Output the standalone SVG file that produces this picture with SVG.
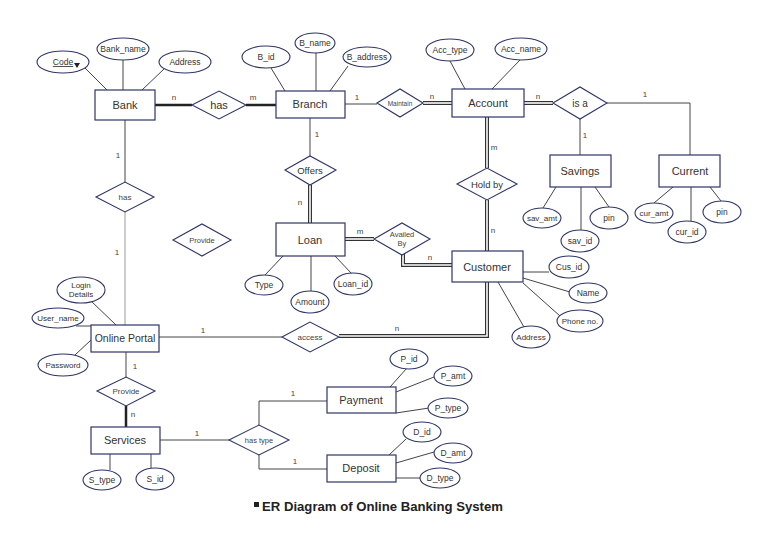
<svg xmlns="http://www.w3.org/2000/svg" width="768" height="543" viewBox="0 0 768 543">
<style>
.ent{fill:#fff;stroke:#2e3566;stroke-width:1.2}
.att{fill:#fff;stroke:#2e3566;stroke-width:1.1}
.rel{fill:#fff;stroke:#2e3566;stroke-width:1.1}
.et{font-family:"Liberation Sans",Arial,sans-serif;font-size:11px;fill:#333;text-anchor:middle}
.at{font-family:"Liberation Sans",Arial,sans-serif;font-size:8.5px;fill:#333;text-anchor:middle}
.rt{font-family:"Liberation Sans",Arial,sans-serif;font-size:8px;fill:#444;text-anchor:middle}
.lb{font-family:"Liberation Sans",Arial,sans-serif;font-size:8px;fill:#444;text-anchor:middle}
.ln{fill:none;stroke:#444;stroke-width:1}
.lg{fill:none;stroke:#aaa;stroke-width:1.2}
.th{fill:none;stroke:#222;stroke-width:2.5}
.d1{fill:none;stroke:#333;stroke-width:4;stroke-linejoin:miter}
.d2{fill:none;stroke:#fff;stroke-width:1.6;stroke-linejoin:miter}
</style>
<rect width="768" height="543" fill="#fff"/>
<g id="connectors">
<!-- Bank attributes -->
<line class="ln" x1="85" y1="68" x2="107" y2="90"/>
<line class="ln" x1="123" y1="60" x2="123" y2="90"/>
<line class="ln" x1="164" y1="69" x2="142" y2="90"/>
<!-- Bank - has - Branch -->
<line class="th" x1="155" y1="105" x2="192" y2="105"/>
<line class="th" x1="246" y1="105" x2="276" y2="105"/>
<!-- Branch attributes -->
<line class="ln" x1="271" y1="68" x2="285" y2="91"/>
<line class="ln" x1="316" y1="53" x2="316" y2="91"/>
<line class="ln" x1="348" y1="66" x2="330" y2="91"/>
<!-- Branch - Maintain - Account -->
<line class="ln" x1="345" y1="104" x2="377" y2="104"/>
<path class="d1" d="M423 103H452"/><path class="d2" d="M423 103H452"/>
<!-- Account attributes -->
<line class="ln" x1="450" y1="61" x2="465" y2="89"/>
<line class="ln" x1="520" y1="60" x2="492" y2="89"/>
<!-- Account - is a -->
<path class="d1" d="M524 103H553"/><path class="d2" d="M524 103H553"/>
<path class="ln" d="M607 103H690V155"/>
<line class="ln" x1="580" y1="119" x2="580" y2="155"/>
<!-- Savings / Current attributes -->
<line class="ln" x1="543" y1="208" x2="556" y2="187"/>
<line class="ln" x1="581" y1="230" x2="581" y2="187"/>
<line class="ln" x1="609" y1="207" x2="595" y2="187"/>
<line class="ln" x1="654" y1="203" x2="673" y2="187"/>
<line class="ln" x1="691" y1="221" x2="691" y2="187"/>
<line class="ln" x1="721" y1="201" x2="710" y2="187"/>
<!-- Account - Hold by - Customer -->
<path class="d1" d="M487 117V168"/><path class="d2" d="M487 117V168"/>
<path class="d1" d="M487 200V251"/><path class="d2" d="M487 200V251"/>
<!-- Branch - Offers - Loan -->
<line class="ln" x1="310" y1="118" x2="310" y2="156"/>
<path class="d1" d="M310 185V223"/><path class="d2" d="M310 185V223"/>
<!-- Loan attributes -->
<line class="ln" x1="265" y1="275" x2="283" y2="256"/>
<line class="ln" x1="311" y1="291" x2="311" y2="256"/>
<line class="ln" x1="352" y1="274" x2="335" y2="256"/>
<!-- Loan - Availed By - Customer -->
<path class="d1" d="M345 239H374"/><path class="d2" d="M345 239H374"/>
<path class="d1" d="M403 252V265H452"/><path class="d2" d="M403 252V265H452"/>
<!-- Customer attributes -->
<line class="ln" x1="523" y1="272" x2="549" y2="272"/>
<line class="ln" x1="523" y1="278" x2="570" y2="292"/>
<line class="ln" x1="523" y1="283" x2="560" y2="316"/>
<line class="ln" x1="498" y1="282" x2="524" y2="327"/>
<!-- Customer - access - Online Portal -->
<path class="d1" d="M487 282V336H339"/><path class="d2" d="M487 282V336H339"/>
<line class="ln" x1="159" y1="337" x2="282" y2="337"/>
<!-- Bank - has - Online Portal -->
<line class="ln" x1="125" y1="120" x2="125" y2="182"/>
<line class="lg" x1="125" y1="212" x2="125" y2="325"/>
<!-- Online Portal attributes -->
<line class="ln" x1="90" y1="300" x2="116" y2="325"/>
<line class="ln" x1="76" y1="326" x2="91" y2="326"/>
<line class="ln" x1="75" y1="355" x2="91" y2="340"/>
<!-- Online Portal - Provide - Services -->
<line class="ln" x1="126" y1="352" x2="126" y2="377"/>
<line class="th" x1="126" y1="406" x2="126" y2="427"/>
<!-- Services attributes -->
<line class="ln" x1="110" y1="454" x2="110" y2="470"/>
<line class="ln" x1="151" y1="454" x2="151" y2="468"/>
<!-- Services - has type - Payment/Deposit -->
<line class="ln" x1="160" y1="440" x2="229" y2="440"/>
<path class="ln" d="M259 425V401H327"/>
<path class="ln" d="M259 455V469H327"/>
<!-- Payment / Deposit attributes -->
<line class="ln" x1="407" y1="368" x2="390" y2="387"/>
<line class="ln" x1="434" y1="377" x2="396" y2="392"/>
<line class="ln" x1="429" y1="408" x2="396" y2="413"/>
<line class="ln" x1="406" y1="439" x2="389" y2="455"/>
<line class="ln" x1="434" y1="452" x2="396" y2="463"/>
<line class="ln" x1="420" y1="478" x2="396" y2="478"/>
<!-- cardinalities -->
<text class="lb" x="174" y="100">n</text>
<text class="lb" x="253" y="100">m</text>
<text class="lb" x="357" y="100">1</text>
<text class="lb" x="432" y="99">n</text>
<text class="lb" x="538" y="99">n</text>
<text class="lb" x="645" y="97">1</text>
<text class="lb" x="585" y="138">1</text>
<text class="lb" x="494" y="150">m</text>
<text class="lb" x="493" y="233">n</text>
<text class="lb" x="317" y="137">1</text>
<text class="lb" x="300" y="205">n</text>
<text class="lb" x="360" y="234">m</text>
<text class="lb" x="430" y="260">n</text>
<text class="lb" x="397" y="331">n</text>
<text class="lb" x="203" y="333">1</text>
<text class="lb" x="118" y="158">1</text>
<text class="lb" x="117" y="255">1</text>
<text class="lb" x="135" y="369">1</text>
<text class="lb" x="133" y="417">n</text>
<text class="lb" x="197" y="436">1</text>
<text class="lb" x="293" y="396">1</text>
<text class="lb" x="295" y="464">1</text>
</g>
<g id="bank"><rect class="ent" x="95" y="90" width="60" height="30"/><text class="et" x="125" y="109">Bank</text></g>
<g id="bank-code"><ellipse class="att" cx="63" cy="62" rx="26" ry="11"/><text class="at" x="63" y="65" text-decoration="underline">Code</text><polygon points="74,63 80,63 77,68" fill="#222"/></g>
<g id="bank-name"><ellipse class="att" cx="123" cy="49" rx="26" ry="11"/><text class="at" x="123" y="52">Bank_name</text></g>
<g id="bank-address"><ellipse class="att" cx="185" cy="62" rx="26" ry="11"/><text class="at" x="185" y="65">Address</text></g>
<g id="rel-has-top"><polygon class="rel" points="192,105 219,91 246,105 219,119"/><text class="et" x="219" y="109">has</text></g>
<g id="branch"><rect class="ent" x="276" y="91" width="69" height="27"/><text class="et" x="310" y="108">Branch</text></g>
<g id="branch-id"><ellipse class="att" cx="266" cy="57" rx="24" ry="11"/><text class="at" x="266" y="60">B_id</text></g>
<g id="branch-name"><ellipse class="att" cx="315" cy="43" rx="20" ry="10"/><text class="at" x="315" y="46">B_name</text></g>
<g id="branch-address"><ellipse class="att" cx="367" cy="57" rx="24" ry="10"/><text class="at" x="367" y="60">B_address</text></g>
<g id="rel-maintain"><polygon class="rel" points="377,103 400,89 423,103 400,117"/><text class="rt" x="400" y="106" style="font-size:6.5px">Maintain</text></g>
<g id="account"><rect class="ent" x="452" y="89" width="72" height="28"/><text class="et" x="488" y="107">Account</text></g>
<g id="acc-type"><ellipse class="att" cx="450" cy="50" rx="24" ry="11"/><text class="at" x="450" y="53">Acc_type</text></g>
<g id="acc-name"><ellipse class="att" cx="521" cy="49" rx="26" ry="11"/><text class="at" x="521" y="52">Acc_name</text></g>
<g id="rel-isa"><polygon class="rel" points="553,103 580,87 607,103 580,119"/><text class="et" x="580" y="107" style="font-size:10px">is a</text></g>
<g id="savings"><rect class="ent" x="550" y="155" width="61" height="32"/><text class="et" x="580" y="175">Savings</text></g>
<g id="current"><rect class="ent" x="659" y="155" width="61" height="32"/><text class="et" x="690" y="175">Current</text></g>
<g id="sav-amt"><ellipse class="att" cx="542" cy="218" rx="19" ry="10"/><text class="at" x="542" y="221" style="font-size:8px">sav_amt</text></g>
<g id="sav-id"><ellipse class="att" cx="580" cy="241" rx="19" ry="11"/><text class="at" x="580" y="244">sav_id</text></g>
<g id="sav-pin"><ellipse class="att" cx="609" cy="218" rx="19" ry="11"/><text class="at" x="609" y="221">pin</text></g>
<g id="cur-amt"><ellipse class="att" cx="654" cy="213" rx="19" ry="10"/><text class="at" x="654" y="216" style="font-size:8px">cur_amt</text></g>
<g id="cur-id"><ellipse class="att" cx="687" cy="232" rx="19" ry="11"/><text class="at" x="687" y="235">cur_id</text></g>
<g id="cur-pin"><ellipse class="att" cx="722" cy="212" rx="19" ry="11"/><text class="at" x="722" y="215">pin</text></g>
<g id="rel-holdby"><polygon class="rel" points="457,184 487,168 517,184 487,200"/><text class="et" x="487" y="188" style="font-size:9.5px">Hold by</text></g>
<g id="rel-offers"><polygon class="rel" points="285,170 310,156 336,170 310,185"/><text class="et" x="310" y="174" style="font-size:9.5px">Offers</text></g>
<g id="loan"><rect class="ent" x="276" y="223" width="69" height="33"/><text class="et" x="310" y="244">Loan</text></g>
<g id="loan-type"><ellipse class="att" cx="264" cy="285" rx="19" ry="10"/><text class="at" x="264" y="288">Type</text></g>
<g id="loan-amount"><ellipse class="att" cx="310" cy="302" rx="19" ry="11"/><text class="at" x="310" y="305">Amount</text></g>
<g id="loan-id"><ellipse class="att" cx="353" cy="284" rx="19" ry="11"/><text class="at" x="353" y="287">Loan_id</text></g>
<g id="rel-provide-orphan"><polygon class="rel" points="173,240 202,224 231,240 202,256"/><text class="rt" x="202" y="243" style="font-size:7.5px">Provide</text></g>
<g id="rel-availed"><polygon class="rel" points="374,239 402,223 430,239 402,255"/><text class="rt" x="402" y="237" style="font-size:7.5px">Availed</text><text class="rt" x="402" y="246" style="font-size:7.5px">By</text></g>
<g id="customer"><rect class="ent" x="452" y="251" width="71" height="31"/><text class="et" x="487" y="271">Customer</text></g>
<g id="cus-id"><ellipse class="att" cx="569" cy="267" rx="20" ry="11"/><text class="at" x="569" y="270">Cus_id</text></g>
<g id="cus-name"><ellipse class="att" cx="588" cy="293" rx="19" ry="10"/><text class="at" x="588" y="296">Name</text></g>
<g id="cus-phone"><ellipse class="att" cx="580" cy="321" rx="23" ry="11"/><text class="at" x="580" y="324" style="font-size:8px">Phone no.</text></g>
<g id="cus-address"><ellipse class="att" cx="531" cy="337" rx="19" ry="11"/><text class="at" x="531" y="340" style="font-size:8px">Address</text></g>
<g id="rel-access"><polygon class="rel" points="282,337 310,322 339,337 310,352"/><text class="rt" x="310" y="340">access</text></g>
<g id="rel-has-left"><polygon class="rel" points="96,197 125,182 154,197 125,212"/><text class="rt" x="125" y="200">has</text></g>
<g id="online-portal"><rect class="ent" x="91" y="325" width="68" height="27"/><text class="et" x="125" y="342" style="font-size:10.5px">Online Portal</text></g>
<g id="login-details"><ellipse class="att" cx="81" cy="290" rx="24" ry="13"/><text class="at" x="81" y="288" style="font-size:8px">Login</text><text class="at" x="81" y="297" style="font-size:8px">Details</text></g>
<g id="user-name"><ellipse class="att" cx="58" cy="318" rx="26" ry="10"/><text class="at" x="58" y="321" style="font-size:8px">User_name</text></g>
<g id="password"><ellipse class="att" cx="63" cy="365" rx="25" ry="11"/><text class="at" x="63" y="368" style="font-size:8px">Password</text></g>
<g id="rel-provide"><polygon class="rel" points="97,391 126,377 155,391 126,406"/><text class="rt" x="126" y="394">Provide</text></g>
<g id="services"><rect class="ent" x="91" y="427" width="69" height="27"/><text class="et" x="125" y="444">Services</text></g>
<g id="s-type"><ellipse class="att" cx="102" cy="480" rx="19" ry="10"/><text class="at" x="102" y="483">S_type</text></g>
<g id="s-id"><ellipse class="att" cx="155" cy="479" rx="19" ry="11"/><text class="at" x="155" y="482">S_id</text></g>
<g id="rel-hastype"><polygon class="rel" points="229,440 259,425 289,440 259,455"/><text class="rt" x="259" y="443" style="font-size:7.5px">has type</text></g>
<g id="payment"><rect class="ent" x="327" y="387" width="69" height="26"/><text class="et" x="361" y="404">Payment</text></g>
<g id="deposit"><rect class="ent" x="327" y="455" width="69" height="27"/><text class="et" x="361" y="472">Deposit</text></g>
<g id="p-id"><ellipse class="att" cx="409" cy="359" rx="19" ry="10"/><text class="at" x="409" y="362">P_id</text></g>
<g id="p-amt"><ellipse class="att" cx="453" cy="376" rx="19" ry="10"/><text class="at" x="453" y="379">P_amt</text></g>
<g id="p-type"><ellipse class="att" cx="448" cy="408" rx="20" ry="10"/><text class="at" x="448" y="411">P_type</text></g>
<g id="d-id"><ellipse class="att" cx="422" cy="432" rx="19" ry="10"/><text class="at" x="422" y="435">D_id</text></g>
<g id="d-amt"><ellipse class="att" cx="453" cy="453" rx="19" ry="10"/><text class="at" x="453" y="456">D_amt</text></g>
<g id="d-type"><ellipse class="att" cx="440" cy="478" rx="20" ry="10"/><text class="at" x="440" y="481">D_type</text></g>
<g id="caption"><rect x="254" y="502" width="5" height="5" fill="#222"/><text x="262" y="511" style="font-family:'Liberation Sans',Arial,sans-serif;font-size:12px;font-weight:bold;fill:#222" textLength="241" lengthAdjust="spacingAndGlyphs">ER Diagram of Online Banking System</text></g>
</svg>
